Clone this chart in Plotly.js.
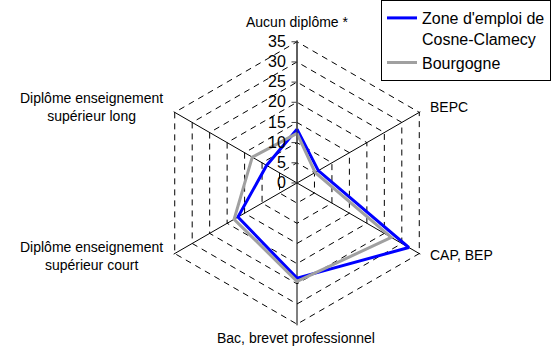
<!DOCTYPE html>
<html>
<head>
<meta charset="utf-8">
<script src="https://cdn.plot.ly/plotly-3.0.1.min.js"></script>
<style>html,body{margin:0;padding:0;background:#fff;}#chart{width:560px;height:349px;}</style>
</head>
<body>
<div id="chart"></div>
<script>
var categories = ['Aucun diplôme *', 'BEPC', 'CAP, BEP', 'Bac, brevet professionnel', 'Diplôme enseignement<br>supérieur court', 'Diplôme enseignement<br>supérieur long'];
var zoneValues = [13.3, 6.1, 32.0, 23.6, 16.9, 8.7];
var bourgogneValues = [12.3, 5.2, 27.0, 24.4, 18.0, 12.8];
var radialTicks = [0, 5, 10, 15, 20, 25, 30, 35];
var seriesNames = ["Zone d'emploi de<br>Cosne-Clamecy", 'Bourgogne'];

var FONT = 'Liberation Sans, Arial, sans-serif';
function closeLoop(a){ return a.concat([a[0]]); }
var W = 560, H = 349;
function px(x){ return x / W; }
function py(y){ return 1 - y / H; }

var traces = [
  {type:'scatterpolar', mode:'lines', name: seriesNames[0], r: closeLoop(zoneValues), theta: closeLoop(categories),
   line:{color:'#0000FF', width:3}},
  {type:'scatterpolar', mode:'lines', name: seriesNames[1], r: closeLoop(bourgogneValues), theta: closeLoop(categories),
   line:{color:'#A0A0A0', width:3}}
];

var rMax = 35.3;
var cx = 297, cy = 182, R = 142 * rMax / 35;
var layout = {
  width: W, height: H,
  margin:{l:0, r:0, t:0, b:0},
  paper_bgcolor:'#fff',
  font:{family: FONT, color:'#000'},
  showlegend:true,
  legend:{x: px(381), y: 1.006, xanchor:'left', yanchor:'top', bordercolor:'#000', borderwidth:1, bgcolor:'#fff',
          font:{size:16, family: FONT}, tracegroupgap:0, valign:'top'},
  polar:{
    domain:{x:[px(cx-R), px(cx+R)], y:[py(cy+R), py(cy-R)]},
    gridshape:'linear',
    bgcolor:'rgba(0,0,0,0)',
    radialaxis:{range:[0, rMax], tickvals: radialTicks, angle:90, side:'counterclockwise', tickangle:90,
      showline:true, linecolor:'#404040', linewidth:1, ticks:'outside', ticklen:5, tickcolor:'#404040',
      gridcolor:'#000', gridwidth:1, griddash:'6px,5px', tickfont:{size:16, family: FONT, color:'#000'}},
    angularaxis:{direction:'clockwise', rotation:90, showticklabels:false, ticks:'', showline:false,
      gridcolor:'#000', gridwidth:1}
  },
  annotations:[
    {text:'Aucun diplôme *', x:px(297), y:py(20)},
    {text:'BEPC', x:px(428), y:py(106), xanchor:'left'},
    {text:'CAP, BEP', x:px(428), y:py(254), xanchor:'left'},
    {text:'Bac, brevet professionnel', x:px(296), y:py(338)},
    {text:'Diplôme enseignement<br>supérieur long', x:px(91), y:py(105.5)},
    {text:'Diplôme enseignement<br>supérieur court', x:px(91), y:py(255)}
  ].map(function(a){ return Object.assign({xref:'paper', yref:'paper', showarrow:false, align:'center',
      xanchor:'center', yanchor:'middle', font:{size:14, family: FONT, color:'#000'}}, a); })
};

Plotly.newPlot('chart', traces, layout, {displayModeBar:false, staticPlot:true});
</script>
</body>
</html>
